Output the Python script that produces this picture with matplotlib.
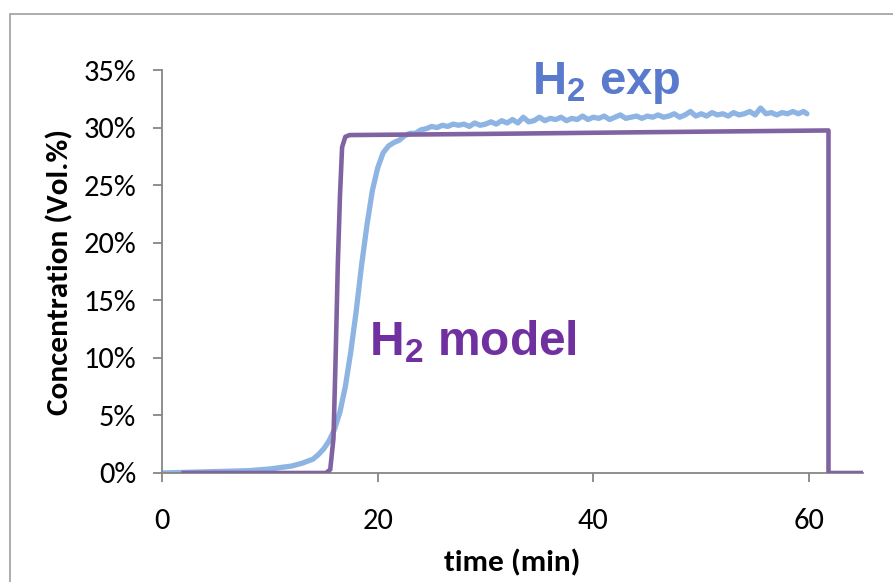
import matplotlib
matplotlib.use('Agg')
import matplotlib.pyplot as plt
from matplotlib.patches import Rectangle
from matplotlib.ticker import FuncFormatter

plt.rcParams['font.family'] = ['Carlito', 'Liberation Sans Narrow', 'Liberation Sans', 'DejaVu Sans']
plt.rcParams['mathtext.fontset'] = 'custom'
plt.rcParams['mathtext.bf'] = 'Liberation Sans:bold'
plt.rcParams['mathtext.rm'] = 'Liberation Sans'

# experimental H2 concentration (%)
exp_t = [0, 2, 4, 6, 8, 10, 12, 13, 14, 14.5, 15, 15.5, 16, 16.5, 17, 17.5, 18, 18.5,
         19, 19.5, 20, 20.5, 21, 21.5, 22, 22.5, 23, 23.5, 24, 24.5, 25,
         25.5, 26.0, 26.5, 27.0, 27.5, 28.0, 28.5, 29.0, 29.5, 30.0, 30.5, 31.0,
         31.5, 32.0, 32.5, 33.0, 33.5, 34.0, 34.5, 35.0, 35.5, 36.0, 36.5, 37.0,
         37.5, 38.0, 38.5, 39.0, 39.5, 40.0, 40.5, 41.0, 41.5, 42.0, 42.5, 43.0,
         43.5, 44.0, 44.5, 45.0, 45.5, 46.0, 46.5, 47.0, 47.5, 48.0, 48.5, 49.0,
         49.5, 50.0, 50.5, 51.0, 51.5, 52.0, 52.5, 53.0, 53.5, 54.0, 54.5, 55.0,
         55.5, 56.0, 56.5, 57.0, 57.5, 58.0, 58.5, 59.0, 59.5, 59.8]
exp_c = [0, 0.05, 0.1, 0.15, 0.2, 0.35, 0.6, 0.85, 1.2, 1.6, 2.1, 2.8, 3.8, 5.3, 7.5, 10.5, 14, 18,
         21.5, 24.5, 26.5, 27.8, 28.4, 28.7, 28.9, 29.3, 29.5, 29.5, 29.8, 29.9, 30.1,
         30.0, 30.2, 30.1, 30.3, 30.2, 30.3, 30.1, 30.4, 30.2, 30.3, 30.5, 30.3,
         30.6, 30.4, 30.7, 30.4, 30.9, 30.5, 30.6, 30.9, 30.6, 30.8, 30.7, 30.9,
         30.6, 30.8, 30.7, 31.0, 30.7, 30.9, 30.8, 31.0, 30.7, 30.9, 31.1, 30.8,
         30.9, 31.0, 30.8, 31.0, 30.9, 31.1, 30.9, 31.0, 31.2, 30.9, 31.1, 31.4,
         31.0, 31.2, 31.0, 31.3, 31.1, 31.2, 31.0, 31.3, 31.1, 31.2, 31.4, 31.1,
         31.7, 31.2, 31.3, 31.1, 31.3, 31.2, 31.4, 31.2, 31.4, 31.2]

# model H2 concentration (%)
model_t = [2, 15.2, 15.6, 15.9, 16.1, 16.3, 16.5, 16.7, 17.0, 17.4, 30, 45, 61.8, 61.8, 65]
model_c = [0, 0, 0.3, 3, 10, 18, 24, 28.3, 29.2, 29.35, 29.45, 29.6, 29.75, 0, 0]

fig = plt.figure(figsize=(8.93, 5.82), dpi=100)
ax = fig.add_axes([0.1814, 0.1873, 0.785, 0.6924])

ax.plot(exp_t, exp_c, color='#8DB4E2', lw=3.8, solid_capstyle='round', zorder=2)
ax.plot(model_t, model_c, color='#8064A2', lw=3.3, solid_joinstyle='round', zorder=3)

ax.set_xlim(0, 65)
ax.set_ylim(0, 35)
ax.set_xticks([0, 20, 40, 60])
ax.set_yticks([0, 5, 10, 15, 20, 25, 30, 35])
ax.yaxis.set_major_formatter(FuncFormatter(lambda v, p: '%d%%' % v))

for s in ['top', 'right']:
    ax.spines[s].set_visible(False)
for s in ['left', 'bottom']:
    ax.spines[s].set_color('#868686')
    ax.spines[s].set_linewidth(1.3)
ax.tick_params(axis='both', colors='#868686', labelcolor='black', length=6.5, width=1.3, labelsize=22)
ax.tick_params(axis='y', pad=12)
ax.tick_params(axis='x', pad=19)

ax.set_ylabel('Concentration (Vol.%)', fontsize=22.5, fontweight='bold')
ax.set_xlabel('time (min)', fontsize=22.5, fontweight='bold')
ax.yaxis.set_label_coords(-0.127, 0.5)
ax.xaxis.set_label_coords(0.499, -0.19)

ax.text(41.2, 32.9, r'$\mathbf{H_2}$ exp', color='#5A7BCD', fontsize=34,
        fontweight='bold', family='Liberation Sans', ha='center', va='baseline')
ax.text(28.8, 10.2, r'$\mathbf{H_2}$ model', color='#7030A0', fontsize=34.5,
        fontweight='bold', family='Liberation Sans', ha='center', va='baseline')

fig.patches.append(Rectangle((0.0112, -0.1), 1.2, 0.976 + 0.1, transform=fig.transFigure,
                             fill=False, edgecolor='#A6A6A6', lw=1.3))

fig.savefig('out.png', dpi=100)
